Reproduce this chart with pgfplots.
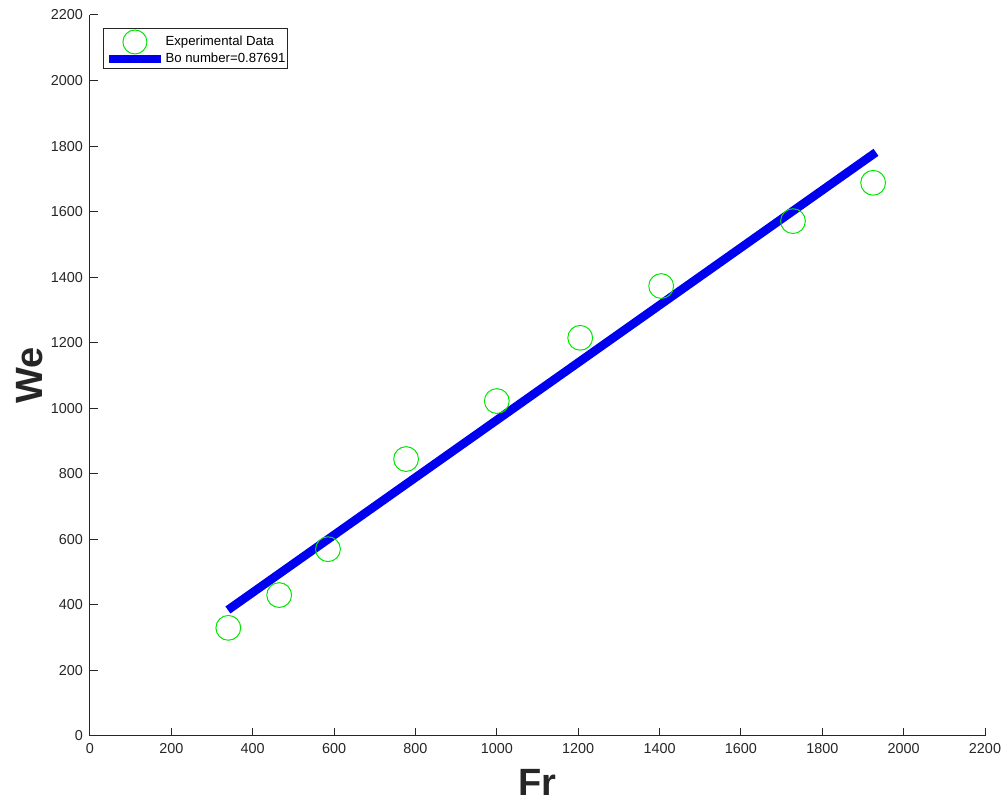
\documentclass[border=0pt]{standalone}
\usepackage{pgfplots}
\pgfplotsset{compat=1.18}
\usepackage{fontspec}
\setmainfont{Liberation Sans}
\definecolor{mgreen}{RGB}{0,230,0}
\definecolor{mblue}{RGB}{0,0,240}
\definecolor{axgray}{RGB}{38,38,38}
\begin{document}
\begin{tikzpicture}
\begin{axis}[
  name=ax,
  scale only axis,
  width=447.5pt, height=360.5pt,
  xmin=0, xmax=2200, ymin=0, ymax=2200,
  xtick={0,200,...,2200}, ytick={0,200,...,2200},
  axis x line=bottom, axis y line=left,
  axis line style={axgray, line width=0.5pt, -},
  tick style={axgray, line width=0.5pt},
  tick align=inside,
  major tick length=4pt,
  ticklabel style={font=\fontsize{7.2}{8}\selectfont, text=axgray},
  /pgf/number format/assume math mode=true,
  /pgf/number format/1000 sep={},
  xlabel={Fr}, ylabel={We},
  label style={font=\fontsize{19}{22}\selectfont\bfseries, text=axgray},
  xlabel style={yshift=-1pt},
  ylabel style={yshift=-3pt},
  legend style={at={(rel axis cs:0.015,0.982)}, anchor=north west,
    font=\fontsize{6.6}{7}\selectfont, draw=axgray, line width=0.5pt,
    inner xsep=0.5pt, inner ysep=0.5pt, row sep=-1.5pt, nodes={inner ysep=0.8pt, inner xsep=0.3pt}},
  legend cell align=left,
]
\addplot[only marks, mark=o, mark size=6.2pt, mgreen, mark options={line width=0.5pt},
  legend image code/.code={\draw[mgreen, line width=0.5pt] (14pt,0pt) circle (6pt);}] coordinates {
(340,330) (465,430) (585,570) (777,845) (1000,1022) (1205,1215) (1404,1373) (1728,1571) (1925,1688)
};
\addlegendentry{Experimental Data}
\addplot[mblue, line width=4.3pt,
  legend image code/.code={\draw[mblue, line width=4pt] (1pt,0pt) -- (27pt,0pt);}] coordinates {(339,384.5) (1932,1781)};
\addlegendentry{Bo number=0.87691}
\end{axis}
\useasboundingbox (ax.south west) ++(-45pt,-36pt) rectangle ++(504pt,404pt);
\end{tikzpicture}
\end{document}
